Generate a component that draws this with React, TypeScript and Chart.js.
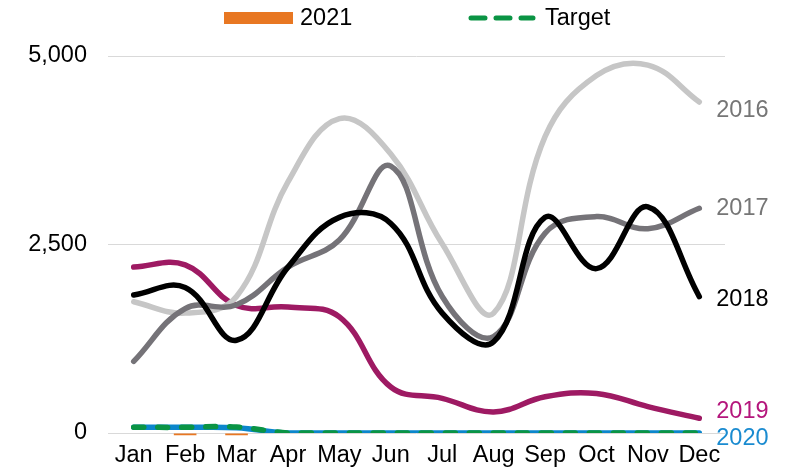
import React, { useEffect, useRef } from "react";
import { Chart, registerables } from "chart.js";

Chart.register(...registerables);

const months = ["Jan", "Feb", "Mar", "Apr", "May", "Jun", "Jul", "Aug", "Sep", "Oct", "Nov", "Dec"];
const yTicks = [0, 2500, 5000];

const s2016 = [1740, 1590, 1810, 3330, 4170, 3700, 2510, 1590, 3930, 4740, 4880, 4390];
const s2017 = [950, 1650, 1700, 2200, 2560, 3540, 1810, 1280, 2650, 2870, 2710, 2980];
const s2018 = [1830, 1930, 1230, 2200, 2860, 2780, 1590, 1210, 2860, 2180, 3000, 1810];
const s2019 = [2200, 2230, 1690, 1670, 1540, 610, 460, 280, 480, 525, 350, 195];
const s2020 = [75, 75, 70, 0, 0, 0, 0, 0, 0, 0, 0, 0];
const s2021 = [null, -30, -30, null, null, null, null, null, null, null, null, null];
const target = [75, 75, 80, 0, 0, 0, 0, 0, 0, 0, 0, 0];

const FONT = '"Liberation Sans", Arial, sans-serif';
const FS = 23.5;

const endLabelPlugin = {
  id: "endLabels",
  afterDatasetsDraw(chart: any) {
    const ctx = chart.ctx;
    ctx.save();
    ctx.font = `${FS}px ${FONT}`;
    ctx.textAlign = "left";
    ctx.textBaseline = "middle";
    chart.data.datasets.forEach((ds: any, i: number) => {
      if (!ds.endLabel) return;
      const meta = chart.getDatasetMeta(i);
      const pt = meta.data[meta.data.length - 1];
      if (!pt) return;
      ctx.fillStyle = ds.endLabel.color;
      ctx.fillText(ds.label, pt.x + 17, pt.y + ds.endLabel.dy);
    });
    ctx.restore();
  },
};

const legendPlugin = {
  id: "customLegend",
  afterDraw(chart: any) {
    const ctx = chart.ctx;
    const items = chart.data.datasets
      .filter((d: any) => d.inLegend)
      .sort((a: any, b: any) => a.legendPos - b.legendPos);
    ctx.save();
    ctx.font = `${FS}px ${FONT}`;
    ctx.textBaseline = "middle";
    ctx.textAlign = "left";
    const cy = 18;
    const xs = [224, 469];
    items.forEach((ds: any, k: number) => {
      const x = xs[k];
      if (ds.type === "bar") {
        ctx.fillStyle = ds.backgroundColor;
        ctx.fillRect(x, cy - 6, 69, 12);
      } else {
        ctx.strokeStyle = ds.borderColor;
        ctx.lineWidth = 5;
        ctx.lineCap = "round";
        ctx.setLineDash([14, 11]);
        ctx.beginPath();
        ctx.moveTo(x + 2, cy);
        ctx.lineTo(x + 64, cy);
        ctx.stroke();
        ctx.setLineDash([]);
      }
      ctx.fillStyle = "#000";
      ctx.fillText(ds.label, x + 76, cy + 1);
    });
    ctx.restore();
  },
};

export default function App() {
  const ref = useRef<HTMLCanvasElement>(null);
  useEffect(() => {
    document.body.style.margin = "0";
    const lineBase = {
      type: "line" as const,
      borderWidth: 5.5,
      pointRadius: 0,
      tension: 0.4,
      fill: false,
      borderCapStyle: "round" as const,
      borderJoinStyle: "round" as const,
    };
    const chart = new Chart(ref.current!, {
      type: "bar",
      data: {
        labels: months,
        datasets: [
          { ...lineBase, label: "Target", data: target, borderColor: "#0a9444", borderDash: [10, 14], order: 0, inLegend: true, legendPos: 1 } as any,
          { ...lineBase, label: "2020", data: s2020, borderColor: "#0b86cc", order: 1, endLabel: { color: "#1a8bd0", dy: 6 } } as any,
          { ...lineBase, label: "2018", data: s2018, borderColor: "#000000", order: 2, endLabel: { color: "#000000", dy: 3 } } as any,
          { ...lineBase, label: "2017", data: s2017, borderColor: "#757378", order: 3, endLabel: { color: "#767676", dy: 0 } } as any,
          { ...lineBase, label: "2016", data: s2016, borderColor: "#c6c6c6", order: 4, endLabel: { color: "#767676", dy: 9 } } as any,
          { ...lineBase, label: "2019", data: s2019, borderColor: "#9e1a63", order: 5, endLabel: { color: "#b4167c", dy: -7 } } as any,
          { type: "bar", label: "2021", data: s2021, backgroundColor: "#e87722", categoryPercentage: 0.8, barPercentage: 0.55, order: 6, clip: false, inLegend: true, legendPos: 0 } as any,
        ],
      },
      options: {
        animation: false,
        responsive: true,
        maintainAspectRatio: false,
        layout: { padding: { top: 56, left: 28, right: 60, bottom: 0 } },
        plugins: {
          legend: { display: false },
          tooltip: { enabled: false },
        },
        scales: {
          x: {
            offset: true,
            grid: { display: false, drawTicks: false },
            border: { display: false },
            ticks: { color: "#000", font: { family: FONT, size: FS }, padding: 8, maxRotation: 0, autoSkip: false },
            afterFit: (axis: any) => {
              axis.height = 36;
            },
          },
          y: {
            min: 0,
            max: 5000,
            afterBuildTicks: (axis: any) => {
              axis.ticks = yTicks.map((v) => ({ value: v }));
            },
            afterFit: (axis: any) => {
              axis.width = 80;
            },
            grid: { color: "#d9d9d9", lineWidth: 1, drawTicks: false },
            border: { display: false },
            ticks: {
              color: "#000",
              font: { family: FONT, size: FS },
              padding: 21,
              callback: (v: any) => Number(v).toLocaleString("en-US"),
            },
          },
        },
      },
      plugins: [endLabelPlugin, legendPlugin],
    });
    return () => chart.destroy();
  }, []);
  return (
    <div style={{ width: 785, height: 469, position: "relative" }}>
      <canvas ref={ref} />
    </div>
  );
}
